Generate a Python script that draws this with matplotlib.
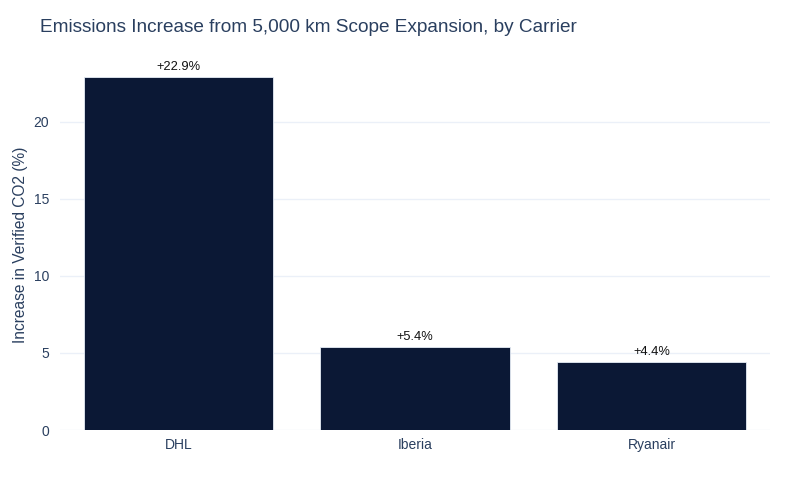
import matplotlib
matplotlib.use("Agg")
import matplotlib.pyplot as plt

carriers = ["DHL", "Iberia", "Ryanair"]
increase_pct = [22.9, 5.4, 4.4]
labels = ["+22.9%", "+5.4%", "+4.4%"]
y_ticks = [0, 5, 10, 15, 20]

plt.rcParams['font.family'] = ['Liberation Sans', 'DejaVu Sans']
text_color = '#2a3f5f'

fig = plt.figure(figsize=(8, 4.8), dpi=100)
ax = fig.add_axes([0.075, 0.104, 0.8875, 0.771])

x = list(range(len(carriers)))
ax.bar(x, increase_pct, width=0.8, color='#0b1835', edgecolor='#e5ecf6', linewidth=0.6, zorder=3)
for xi, v, lab in zip(x, increase_pct, labels):
    ax.text(xi, v + 0.25, lab, ha='center', va='bottom', fontsize=9.3, color='#111111', zorder=4)

ax.set_xlim(-0.5, len(carriers) - 0.5)
ax.set_ylim(0, 24.0)
ax.set_xticks(x)
ax.set_xticklabels(carriers)
ax.set_yticks(y_ticks)
ax.tick_params(axis='both', length=0, labelsize=10, colors=text_color)
ax.tick_params(axis='y', pad=8)
ax.tick_params(axis='x', pad=6)
ax.grid(axis='y', color='#ebf0f8', linewidth=1, zorder=0)
for s in ax.spines.values():
    s.set_visible(False)

ax.set_ylabel('Increase in Verified CO2 (%)', fontsize=11.2, color=text_color, labelpad=4)
fig.text(0.05, 0.942, 'Emissions Increase from 5,000 km Scope Expansion, by Carrier',
         fontsize=13.7, color=text_color, ha='left', va='center')

fig.savefig('out.png', dpi=100, facecolor='white')
